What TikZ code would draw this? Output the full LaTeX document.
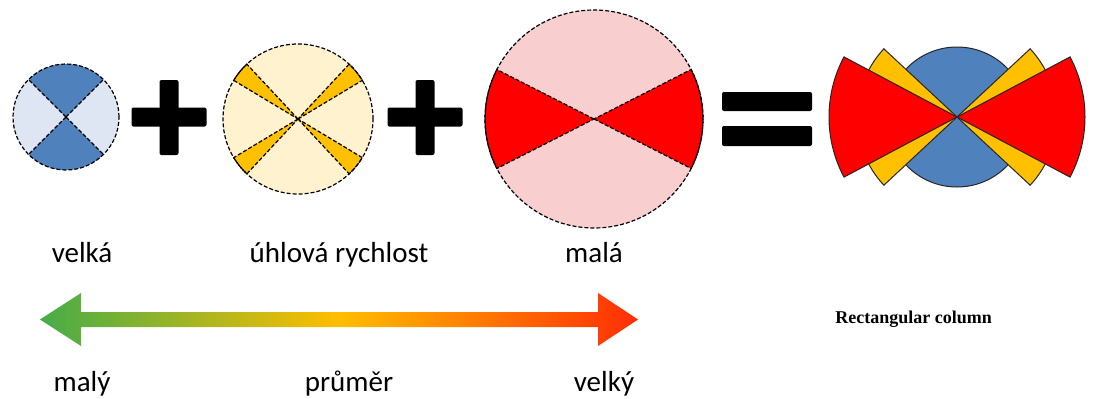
\documentclass[tikz,border=0pt]{standalone}
\usepackage{fontspec}
\setmainfont{Carlito}
\newfontfamily\timesfont{Liberation Serif}
\definecolor{dkblue}{RGB}{79,129,189}
\definecolor{ltblue}{RGB}{221,230,242}
\definecolor{ltyellow}{RGB}{255,242,206}
\definecolor{gold}{RGB}{255,192,0}
\definecolor{ltpink}{RGB}{249,206,206}
\definecolor{arrgreen}{RGB}{70,172,72}
\definecolor{arrorange}{RGB}{255,190,0}
\definecolor{arrred}{RGB}{255,45,5}
\tikzset{
  font={\fontsize{14.5pt}{16pt}\selectfont},
  dashline/.style={draw=black, dash pattern=on 2pt off 1pt, line width=0.6pt},
  thinline/.style={draw=black!85, line width=0.5pt},
  opsign/.style={fill=black, rounded corners=1pt},
  label/.style={anchor=base}}
% filled sector: centre, start, end, radius, style
\newcommand{\sector}[5]{%
  \filldraw[#5] (#1) -- ++(#2:#4) arc[start angle=#2, end angle=#3, radius=#4] -- cycle;}

\begin{document}
\begin{tikzpicture}[x=0.5pt,y=0.5pt]
\useasboundingbox (0,0) rectangle (1093,398);
\coordinate (c1) at (66,281);
\coordinate (c2) at (298,279);
\coordinate (c3) at (594,279);
\coordinate (cmb) at (957,281);
% small disc
\fill [ltblue] (c1) circle [radius=53];
\sector{c1}{45}{135}{53}{fill=dkblue, draw=none}
\sector{c1}{225}{315}{53}{fill=dkblue, draw=none}
\draw [dashline] (c1) -- ++(45:53);
\draw [dashline] (c1) -- ++(135:53);
\draw [dashline] (c1) -- ++(225:53);
\draw [dashline] (c1) -- ++(315:53);
\draw [dashline] (c1) circle [radius=53];
% plus
\fill [opsign] (131.5,271.5) rectangle (206.5,290.5);
\fill [opsign] (159.5,243) rectangle (178.5,318);
% middle disc
\fill [ltyellow] (c2) circle [radius=75];
\sector{c2}{31}{47}{75}{fill=gold, dashline}
\sector{c2}{133}{149}{75}{fill=gold, dashline}
\sector{c2}{211}{227}{75}{fill=gold, dashline}
\sector{c2}{313}{329}{75}{fill=gold, dashline}
\draw [dashline] (c2) circle [radius=75];
% plus
\fill [opsign] (387.5,271.5) rectangle (462.5,290.5);
\fill [opsign] (415.5,243) rectangle (434.5,318);
% big disc
\fill [ltpink] (c3) circle [radius=109];
\sector{c3}{-27}{27}{109}{fill=red, dashline}
\sector{c3}{153}{207}{109}{fill=red, dashline}
\draw [dashline] (c3) circle [radius=109];
% equals
\fill [opsign] (722,287) rectangle (812,306);
\fill [opsign] (722,252) rectangle (812,272);
% combined
\filldraw [fill=dkblue, thinline] (cmb) circle [radius=70];
\sector{cmb}{137}{165}{100}{fill=gold, thinline}
\sector{cmb}{15}{43}{100}{fill=gold, thinline}
\sector{cmb}{195}{223}{100}{fill=gold, thinline}
\sector{cmb}{-43}{-15}{100}{fill=gold, thinline}
\sector{cmb}{152}{208}{128}{fill=red, thinline}
\sector{cmb}{-28}{28}{128}{fill=red, thinline}
% labels
\node [label] (velka) at (82,136) {velká};
\node [label] (uhl) at (339,136) {úhlová rychlost};
\node [label] (mala) at (594,136) {malá};
\node [anchor=base west, inner sep=0pt, font=\timesfont\bfseries\fontsize{9pt}{10pt}\selectfont] (rect) at (835,75) {Rectangular column};
\node [label] (maly) at (82,7) {malý};
\node [label] (prumer) at (349,7) {průměr};
\node [label] (velky) at (604,7) {velký};
% diameter arrow
\coordinate (lo) at (40,78.5);
\coordinate (hi) at (638,78.5);
\shade [left color=arrgreen, right color=arrred, middle color=arrorange]
  (lo) -- (81,105) -- (81,86) -- (598,86) -- (598,105) -- (hi)
  -- (598,52) -- (598,71) -- (81,71) -- (81,52) -- cycle;
\end{tikzpicture}
\end{document}
